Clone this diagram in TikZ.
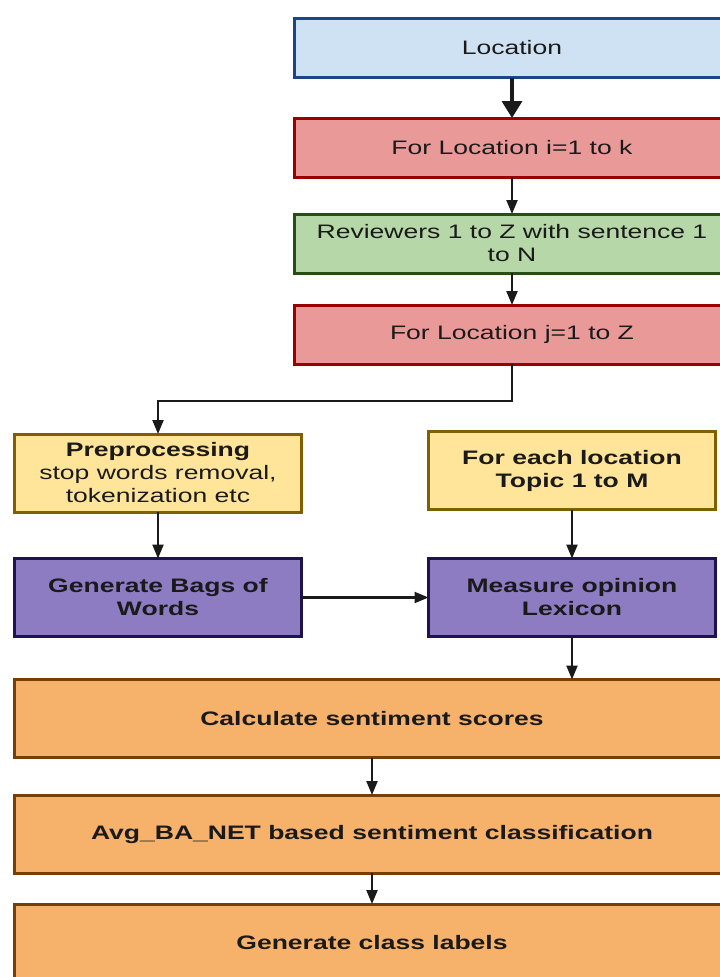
\documentclass[tikz,border=0pt]{standalone}
\usepackage{fontspec}
\setmainfont{Liberation Sans}[FakeStretch=1.36]
\usetikzlibrary{arrows.meta}

\definecolor{locfill}{HTML}{CFE2F3}
\definecolor{locline}{HTML}{1C4587}
\definecolor{redfill}{HTML}{EA9999}
\definecolor{redline}{HTML}{990000}
\definecolor{grnfill}{HTML}{B6D7A8}
\definecolor{grnline}{HTML}{274E13}
\definecolor{yelfill}{HTML}{FFE599}
\definecolor{yelline}{HTML}{7F6000}
\definecolor{purfill}{HTML}{8E7CC3}
\definecolor{purline}{HTML}{20124D}
\definecolor{orgfill}{HTML}{F6B26B}
\definecolor{orgline}{HTML}{783F04}
\definecolor{txt}{HTML}{1A1A1A}

\begin{document}
\begin{tikzpicture}[x=1pt, y=-1pt, font=\fontsize{19.5}{23}\selectfont,
  box/.style={draw, line width=3pt, inner sep=0pt, outer sep=0pt, align=center, text=txt},
  wide/.style={box, minimum width=435pt, minimum height=59pt},
  half/.style={box, minimum width=287pt, minimum height=78pt},
  full/.style={box, minimum width=715pt, minimum height=78pt},
  arr/.style={-{Triangle[length=14pt,width=11pt]}, line width=2.2pt, draw=txt}]
\useasboundingbox (0,0) rectangle (720,977);
\clip (0,0) rectangle (720,977);

\node[wide, fill=locfill, draw=locline] (loc) at (512,48) {Location};
\node[wide, fill=redfill, draw=redline] (fori) at (512,147.5) {For Location i=1 to k};
\node[wide, fill=grnfill, draw=grnline] (rev) at (512,243.5) {Reviewers 1 to Z with sentence 1\\to N};
\node[wide, fill=redfill, draw=redline] (forj) at (512,334.5) {For Location j=1 to Z};

\node[half, fill=yelfill, draw=yelline] (pre) at (158,473) {\textbf{Preprocessing}\\stop words removal,\\tokenization etc};
\node[half, fill=yelfill, draw=yelline] (each) at (572,470.5) {\textbf{For each location}\\\textbf{Topic 1 to M}};
\node[half, fill=purfill, draw=purline] (bags) at (158,597.5) {\textbf{Generate Bags of}\\\textbf{Words}};
\node[half, fill=purfill, draw=purline] (meas) at (572,597.5) {\textbf{Measure opinion}\\\textbf{Lexicon}};

\node[full, fill=orgfill, draw=orgline] (calc) at (372,718.5) {\textbf{Calculate sentiment scores}};
\node[full, fill=orgfill, draw=orgline] (avg) at (372,834) {\textbf{Avg\_BA\_NET based sentiment classification}};
\node[full, fill=orgfill, draw=orgline] (cls) at (372,943) {\textbf{Generate class labels}};

\coordinate (bend) at (512,401);

\draw[arr, line width=3.5pt, -{Triangle[length=17pt,width=20pt]}] (loc) -- (fori);
\draw[arr] (fori) -- (rev);
\draw[arr] (rev) -- (forj);
\draw[arr] (forj.south) -- (bend) -| (pre.north);
\draw[arr] (pre) -- (bags);
\draw[arr] (each) -- (meas);
\draw[arr] (bags) -- (meas);
\draw[arr] (meas.south) -- (meas.south |- calc.north);
\draw[arr] (calc) -- (avg);
\draw[arr] (avg) -- (cls);
\end{tikzpicture}
\end{document}
